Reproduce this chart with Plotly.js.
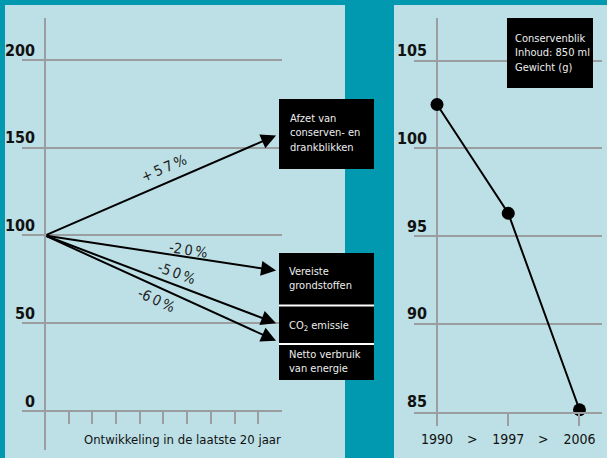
<!DOCTYPE html>
<html><head><meta charset="utf-8">
<script src="https://cdn.plot.ly/plotly-3.0.1.min.js"></script>
<style>html,body{margin:0;padding:0;background:#0099af}</style>
</head><body><div id="chart" style="width:607px;height:458px"></div>
<script>
// ---- data ----
const startIndex = 100;
const endIndex = [157, 80, 50, 40];
const changeLabels = ['+\u20095\u20097\u2009%', '-2\u20090\u2009%', '-5\u20090\u2009%', '-6\u20090\u2009%'];
const periodEnd = 9.75;
const leftYTicks = [0, 50, 100, 150, 200];
const leftXTicks = [0, 1, 2, 3, 4, 5, 6, 7, 8, 9];
const leftXTitle = 'Ontwikkeling in de laatste 20 jaar';
const boxTexts = ['Afzet van<br>conserven- en<br>drankblikken', 'Vereiste<br>grondstoffen', 'CO<sub>2</sub> emissie', 'Netto verbruik<br>van energie'];
const years = ['1990', '1997', '2006'];
const weightG = [102.5, 96.3, 85.1];
const rightYTicks = [85, 90, 95, 100, 105];
const rightBoxText = 'Conservenblik<br>Inhoud: 850 ml<br>Gewicht (g)';

// ---- helpers ----
const W = 607, H = 458;
const px = v => v / W, py = v => 1 - v / H;
const FONT = "'Liberation Sans Narrow', 'DejaVu Sans Condensed', 'Arial Narrow', sans-serif";
const TEAL = '#0099af', PANEL = '#bce0e6', GRID = '#9a9ea1', INK = '#111111';

const traces = [
  {x: [0], y: [startIndex], xaxis: 'x', yaxis: 'y', mode: 'markers',
   marker: {size: 1, opacity: 0}, hoverinfo: 'skip', showlegend: false},
  {x: years.map((_, i) => i), y: weightG, xaxis: 'x2', yaxis: 'y2', mode: 'lines+markers',
   line: {color: '#000', width: 2}, marker: {color: '#000', size: 13},
   cliponaxis: false, showlegend: false, hoverinfo: 'skip'}
];

const annotations = [];
// arrows
endIndex.forEach(v => annotations.push({
  x: periodEnd, y: v, ax: 0, ay: startIndex, xref: 'x', yref: 'y', axref: 'x', ayref: 'y',
  showarrow: true, arrowhead: 2, arrowsize: 1.5, arrowwidth: 2, arrowcolor: '#000', text: '', standoff: 0
}));
// change labels
const lblPos = [[5.03, 138.5, -23.4], [6.04, 92.0, 8.6], [5.53, 78.6, 19.6], [4.69, 63.2, 24.4]];
changeLabels.forEach((t, i) => annotations.push({
  x: lblPos[i][0], y: lblPos[i][1], xref: 'x', yref: 'y', text: t, showarrow: false,
  textangle: lblPos[i][2], font: {family: FONT, size: 14.5, color: '#222'}
}));
// x title left
annotations.push({x: px(82), y: py(439), xref: 'paper', yref: 'paper', xanchor: 'left', yanchor: 'middle',
  text: leftXTitle, showarrow: false, font: {family: FONT, size: 13, color: INK}});
// box texts
const boxTxtPos = [[288, 133], [287, 278], [287, 326], [287, 361]];
boxTexts.forEach((t, i) => annotations.push({
  x: px(boxTxtPos[i][0]), y: py(boxTxtPos[i][1]), xref: 'paper', yref: 'paper', xanchor: 'left', yanchor: 'middle',
  align: 'left', text: t, showarrow: false, font: {family: FONT, size: 11, color: '#eeeeee'}
}));
annotations.push({x: px(513), y: py(53.5), xref: 'paper', yref: 'paper', xanchor: 'left', yanchor: 'middle',
  align: 'left', text: rightBoxText, showarrow: false, font: {family: FONT, size: 11, color: '#eeeeee'}});
// ">" between years
[0.5, 1.5].forEach(x => annotations.push({x: x, y: py(439), xref: 'x2', yref: 'paper', yanchor: 'middle',
  text: '>', showarrow: false, font: {family: FONT, size: 14, color: INK}}));

const rect = (x0, y0, x1, y1, fill, layer) => ({type: 'rect', xref: 'paper', yref: 'paper',
  x0: px(x0), x1: px(x1), y0: py(y1), y1: py(y0), fillcolor: fill, line: {width: 0}, layer: layer});
const hline = (x0, x1, y, color) => ({type: 'line', xref: 'paper', yref: 'paper',
  x0: px(x0), x1: px(x1), y0: py(y), y1: py(y), line: {color: color, width: 2}, layer: 'above'});

const shapes = [
  rect(5, 5, 345, 458, PANEL, 'below'),
  rect(394, 5, 607, 458, PANEL, 'below'),
  rect(279, 99, 374, 169, '#000', 'above'),
  rect(279, 253, 374, 380, '#000', 'above'),
  hline(279, 374, 305.5, '#ffffff'),
  hline(279, 374, 344, '#ffffff'),
  rect(507, 18, 593, 88, '#000', 'above')
];

const layout = {
  width: W, height: H, margin: {l: 0, r: 0, t: 0, b: 0},
  paper_bgcolor: TEAL, plot_bgcolor: 'rgba(0,0,0,0)', showlegend: false,
  font: {family: FONT, color: INK},
  xaxis: {domain: [px(22), px(282)], range: [-0.97, 10.0], anchor: 'free', position: py(411),
    tickvals: leftXTicks, showticklabels: false, ticks: 'outside', ticklen: 12, tickwidth: 2, tickcolor: GRID,
    showgrid: false, zeroline: true, zerolinecolor: GRID, zerolinewidth: 2, showline: false, fixedrange: true},
  yaxis: {domain: [py(450), py(18)], range: [-22.2, 223.9], anchor: 'x', tickvals: leftYTicks,
    showgrid: true, gridcolor: GRID, gridwidth: 2, zeroline: false, showline: false, ticks: '',
    ticklabelshift: -10, ticklabelstandoff: -14,
    tickfont: {family: FONT, size: 16, color: INK, weight: 'bold'}},
  xaxis2: {domain: [px(414), px(602)], range: [-0.323, 2.316], anchor: 'y2',
    tickvals: [0, 1, 2], ticktext: years, ticks: 'outside', ticklen: 12, tickwidth: 2, tickcolor: GRID,
    ticklabelstandoff: 2,
    showgrid: false, zeroline: true, zerolinecolor: GRID, zerolinewidth: 2,
    showline: true, linecolor: GRID, linewidth: 2,
    tickfont: {family: FONT, size: 14, color: INK}},
  yaxis2: {domain: [py(411.5), py(18)], range: [85, 107.43], anchor: 'x2', tickvals: rightYTicks,
    showgrid: true, gridcolor: GRID, gridwidth: 2, zeroline: false, showline: false, ticks: '',
    ticklabelshift: -10, ticklabelstandoff: -14,
    tickfont: {family: FONT, size: 16, color: INK, weight: 'bold'}},
  shapes: shapes, annotations: annotations
};

Plotly.newPlot('chart', traces, layout, {staticPlot: true, displayModeBar: false});
</script></body></html>
